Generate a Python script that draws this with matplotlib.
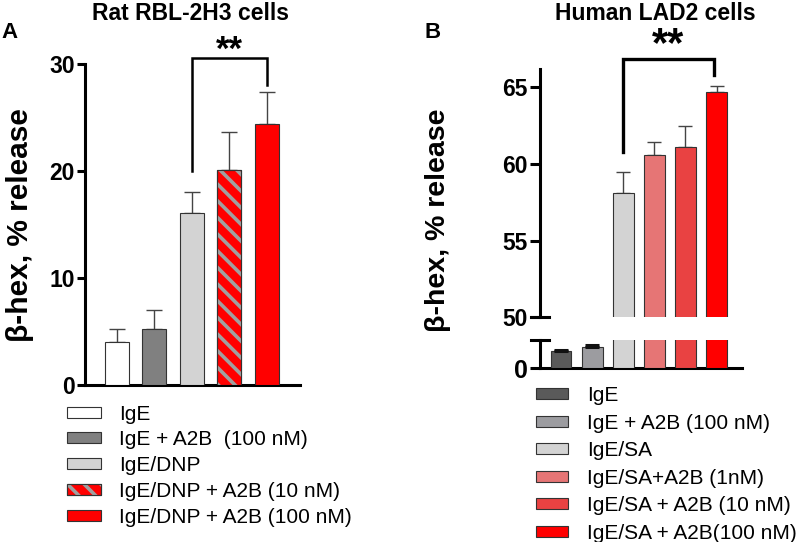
import matplotlib
matplotlib.use('Agg')
import matplotlib.pyplot as plt
import numpy as np
from matplotlib.legend_handler import HandlerTuple

plt.rcParams['font.family'] = ['Liberation Sans', 'DejaVu Sans']
plt.rcParams['hatch.linewidth'] = 2.6

# ---------------- data ----------------
a_labels = ['IgE', 'IgE + A2B  (100 nM)', 'IgE/DNP', 'IgE/DNP + A2B (10 nM)', 'IgE/DNP + A2B (100 nM)']
a_means = [4.0, 5.2, 16.1, 20.1, 24.4]
a_sem = [1.2, 1.8, 2.0, 3.6, 3.0]
a_colors = ['#ffffff', '#808080', '#d3d3d3', '#ff0000', '#ff0000']
a_yticks = [0, 10, 20, 30]

b_labels = ['IgE', 'IgE + A2B (100 nM)', 'IgE/SA', 'IgE/SA+A2B (1nM)',
            'IgE/SA + A2B (10 nM)', 'IgE/SA + A2B(100 nM)']
b_means = [6.0, 7.7, 58.1, 60.6, 61.1, 64.7]
b_sem = [0.5, 0.5, 1.4, 0.8, 1.4, 0.4]
b_colors = ['#5a5a5a', '#9c9ca0', '#d3d3d3', '#e67575', '#e94242', '#ff0000']
b_upper_ticks = [50, 55, 60, 65]
b_lower_ticks = [0]

W, H = 800, 542
fig = plt.figure(figsize=(8, 5.42), dpi=100)


def px_axes(x0, y_top, x1, y_bottom):
    return fig.add_axes([x0 / W, 1 - y_bottom / H, (x1 - x0) / W, (y_bottom - y_top) / H])


def style(ax, size, lw=2.2, length=6, pad=1.5):
    for s in ['top', 'right']:
        ax.spines[s].set_visible(False)
    for s in ['left', 'bottom']:
        ax.spines[s].set_linewidth(lw)
    ax.tick_params(axis='y', direction='out', length=length, width=lw, pad=pad,
                   labelsize=size)
    for t in ax.get_yticklabels():
        t.set_fontweight('bold')


EDGE = '#333333'

# ---------------- Panel A ----------------
axA = px_axes(85, 64.3, 300, 385)
xa = np.arange(len(a_means))
barsA = axA.bar(xa, a_means, width=0.64, color=a_colors, edgecolor=EDGE,
                linewidth=0.8, zorder=3)
hatchA = axA.bar(xa[3], a_means[3], width=0.64, color='none', edgecolor='#a0a0a0',
                 hatch='\\\\', linewidth=0, zorder=3.1)
outlineA = axA.bar(xa[3], a_means[3], width=0.64, fill=False, edgecolor=EDGE,
                   linewidth=0.8, zorder=3.2)
axA.errorbar(xa, a_means, yerr=[np.zeros(len(a_sem)), a_sem], fmt='none',
             ecolor='#444444', elinewidth=1.0, capsize=5.5, capthick=1.0, zorder=2)
axA.set_xlim(-0.853, 4.88)
axA.set_ylim(0, 30)
axA.set_yticks(a_yticks)
axA.set_xticks([])
style(axA, 16.5)
axA.plot([2, 2, 4, 4], [20, 30.55, 30.55, 28.05], color='black', lw=1.8,
         clip_on=False, solid_joinstyle='miter')
axA.text(3.0, 29.75, '**', ha='center', va='bottom', fontsize=25, fontweight='bold')

fig.text(190 / W, 1 - 14 / H, 'Rat RBL-2H3 cells', ha='center', va='center',
         fontsize=16.5, fontweight='bold')
fig.text(10 / W, 1 - 33 / H, 'A', ha='center', va='center', fontsize=16, fontweight='bold')
fig.text(20 / W, 1 - 225 / H, 'β-hex, % release', rotation=90, ha='center', va='center',
         fontsize=21.5, fontweight='bold')

handlesA = [barsA[0], barsA[1], barsA[2], (barsA[3], hatchA[0], outlineA[0]), barsA[4]]
fig.legend(handlesA, a_labels, loc='upper left', bbox_to_anchor=(67 / W, 1 - 404.5 / H),
           frameon=False, fontsize=15, handlelength=1.63, handleheight=0.43,
           handletextpad=0.87, labelspacing=0.33, borderaxespad=0, borderpad=0,
           handler_map={tuple: HandlerTuple(ndivide=1, pad=0)})

# ---------------- Panel B ----------------
xb = np.arange(len(b_means))
axBu = px_axes(540, 69.3, 741.7, 317.3)
axBl = px_axes(540, 340, 741.7, 368.3)

barsB = None
for ax in (axBu, axBl):
    bb = ax.bar(xb, b_means, width=0.67, color=b_colors, edgecolor=EDGE,
                linewidth=0.8, zorder=3)
    if barsB is None:
        barsB = bb
    ax.set_xlim(-0.675, 5.81)
    ax.set_xticks([])

axBu.errorbar(xb[2:], b_means[2:], yerr=[np.zeros(4), b_sem[2:]], fmt='none',
              ecolor='#444444', elinewidth=1.0, capsize=5, capthick=1.0, zorder=2)
axBl.errorbar(xb[:2], b_means[:2], yerr=[np.zeros(2), b_sem[:2]], fmt='none',
              ecolor='#111111', elinewidth=2.0, capsize=5, capthick=2.2, zorder=4)

axBu.set_ylim(50, 66.17)
axBu.set_yticks(b_upper_ticks)
axBl.set_ylim(0, 10)
axBl.set_yticks(b_lower_ticks)
style(axBu, 16.5, length=7, pad=2)
style(axBl, 18, length=7, pad=2)
axBu.spines['bottom'].set_visible(False)
# break caps crossing the spine
axBu.plot([-0.045, 0.045], [0, 0], transform=axBu.transAxes, color='black', lw=2.2,
          clip_on=False)
axBl.plot([-0.045, 0.045], [1, 1], transform=axBl.transAxes, color='black', lw=2.2,
          clip_on=False)

axBu.plot([2, 2, 4.92, 4.92], [60.8, 66.83, 66.83, 65.8], color='black', lw=2.4,
          clip_on=False, solid_joinstyle='miter')
axBu.text(3.45, 66.45, '**', ha='center', va='bottom', fontsize=30, fontweight='bold')

fig.text(655 / W, 1 - 14 / H, 'Human LAD2 cells', ha='center', va='center',
         fontsize=16.5, fontweight='bold')
fig.text(433 / W, 1 - 33 / H, 'B', ha='center', va='center', fontsize=16, fontweight='bold')
fig.text(438 / W, 1 - 220 / H, 'β-hex, % release', rotation=90, ha='center', va='center',
         fontsize=20.5, fontweight='bold')

fig.legend(list(barsB), b_labels, loc='upper left', bbox_to_anchor=(536 / W, 1 - 386 / H),
           frameon=False, fontsize=15, handlelength=1.54, handleheight=0.43,
           handletextpad=0.91, labelspacing=0.41, borderaxespad=0, borderpad=0)

fig.savefig('out.png', dpi=100)
